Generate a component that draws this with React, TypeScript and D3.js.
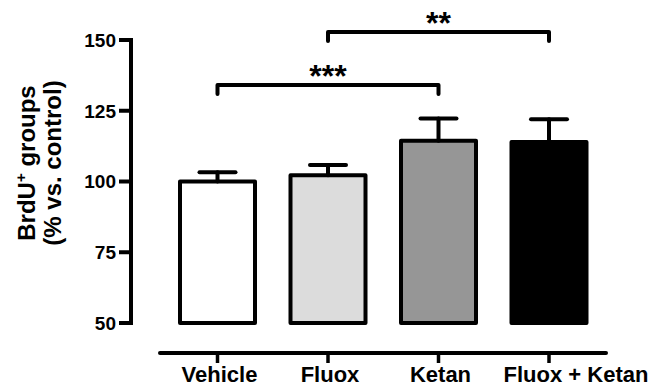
import React, { useEffect, useRef } from 'react';
import * as d3 from 'd3';

// Groups, means and SEM
const groups = ['Vehicle', 'Fluox', 'Ketan', 'Fluox + Ketan'];
const means = [100, 102.2, 114.4, 114];
const errors = [3.3, 3.6, 7.9, 8];
const fills = ['#ffffff', '#dcdcdc', '#969696', '#000000'];
const yTicks = [50, 75, 100, 125, 150];

// Significance brackets: [from group, to group, label]
const brackets: [string, string, string][] = [
    ['Vehicle', 'Ketan', '***'],
    ['Fluox', 'Fluox + Ketan', '**'],
];

const App = () => {
    const svgRef = useRef<SVGSVGElement>(null);

    useEffect(() => {
        document.body.style.margin = '0';
        const width = 656;
        const height = 388;
        const font = 'Arial, "Liberation Sans", sans-serif';

        const svg = d3.select(svgRef.current);
        svg.selectAll('*').remove();
        svg.attr('width', width).attr('height', height);

        // Scales
        const y = d3.scaleLinear().domain([50, 150]).range([323, 40]);
        const x = d3.scalePoint().domain(groups).range([217.5, 549]);
        const barW = 75;

        // Y axis (Prism style: thick line, outside ticks)
        const yAxis = svg.append('g');
        yAxis.append('line')
            .attr('x1', 131).attr('x2', 131)
            .attr('y1', y(150) - 2).attr('y2', y(50) + 2)
            .attr('stroke', '#000').attr('stroke-width', 4);
        yAxis.selectAll('.ytick')
            .data(yTicks)
            .enter()
            .append('line')
            .attr('x1', 119).attr('x2', 131)
            .attr('y1', d => y(d)).attr('y2', d => y(d))
            .attr('stroke', '#000').attr('stroke-width', 4);
        yAxis.selectAll('.ylabel')
            .data(yTicks)
            .enter()
            .append('text')
            .attr('x', 116)
            .attr('y', d => y(d))
            .attr('dy', '0.36em')
            .attr('text-anchor', 'end')
            .attr('font-family', font)
            .attr('font-weight', 'bold')
            .attr('font-size', 19)
            .text(d => d);

        // Y axis title (two lines)
        const title = svg.append('text')
            .attr('transform', 'translate(0,163) rotate(-90)')
            .attr('text-anchor', 'middle')
            .attr('font-family', font)
            .attr('font-weight', 'bold')
            .attr('font-size', 24);
        const t1 = title.append('tspan').attr('x', 0).attr('y', 35);
        t1.append('tspan').text('BrdU');
        t1.append('tspan').attr('dy', -9).attr('font-size', 15).text('+');
        t1.append('tspan').attr('dy', 9).text(' groups');
        title.append('tspan').attr('x', 0).attr('y', 61).text('(% vs. control)');

        // Bars
        svg.selectAll('.bar')
            .data(groups)
            .enter()
            .append('rect')
            .attr('x', d => (x(d) as number) - barW / 2)
            .attr('y', (d, i) => y(means[i]))
            .attr('width', barW)
            .attr('height', (d, i) => y(50) - y(means[i]))
            .attr('fill', (d, i) => fills[i])
            .attr('stroke', '#000')
            .attr('stroke-width', 4)
            .attr('stroke-linejoin', 'round');

        // Error bars (upper only)
        const err = svg.append('g')
            .attr('stroke', '#000')
            .attr('stroke-width', 4)
            .attr('stroke-linecap', 'round');
        groups.forEach((g, i) => {
            const cx = x(g) as number;
            err.append('line')
                .attr('x1', cx).attr('x2', cx)
                .attr('y1', y(means[i])).attr('y2', y(means[i] + errors[i]));
            err.append('line')
                .attr('x1', cx - 18).attr('x2', cx + 18)
                .attr('y1', y(means[i] + errors[i])).attr('y2', y(means[i] + errors[i]));
        });

        // X axis (offset below the plot)
        const xAxisY = 353;
        const xAxis = svg.append('g');
        xAxis.append('line')
            .attr('x1', 160).attr('x2', 606)
            .attr('y1', xAxisY).attr('y2', xAxisY)
            .attr('stroke', '#000').attr('stroke-width', 4)
            .attr('stroke-linecap', 'round');
        xAxis.selectAll('.xtick')
            .data(groups)
            .enter()
            .append('line')
            .attr('x1', d => x(d) as number).attr('x2', d => x(d) as number)
            .attr('y1', xAxisY).attr('y2', xAxisY + 10)
            .attr('stroke', '#000').attr('stroke-width', 3.5);
        xAxis.selectAll('.xlabel')
            .data(groups)
            .enter()
            .append('text')
            .attr('x', (d, i) => (x(d) as number) + (i === groups.length - 1 ? 27 : 2))
            .attr('y', 382)
            .attr('text-anchor', 'middle')
            .attr('font-family', font)
            .attr('font-weight', 'bold')
            .attr('font-size', 22)
            .text(d => d);

        // Significance brackets
        const bracketY = [85, 32];
        brackets.forEach(([a, b, label], k) => {
            const x1 = x(a) as number;
            const x2 = x(b) as number;
            const by = bracketY[k];
            svg.append('path')
                .attr('d', `M${x1},${by + 9}V${by}H${x2}V${by + 9}`)
                .attr('fill', 'none')
                .attr('stroke', '#000')
                .attr('stroke-width', 4)
                .attr('stroke-linecap', 'round')
                .attr('stroke-linejoin', 'round');
            svg.append('text')
                .attr('x', (x1 + x2) / 2)
                .attr('y', by + 2)
                .attr('text-anchor', 'middle')
                .attr('font-family', font)
                .attr('font-weight', 'bold')
                .attr('font-size', 32)
                .text(label);
        });
    }, []);

    return <svg ref={svgRef} style={{ display: 'block' }}></svg>;
};

export default App;
